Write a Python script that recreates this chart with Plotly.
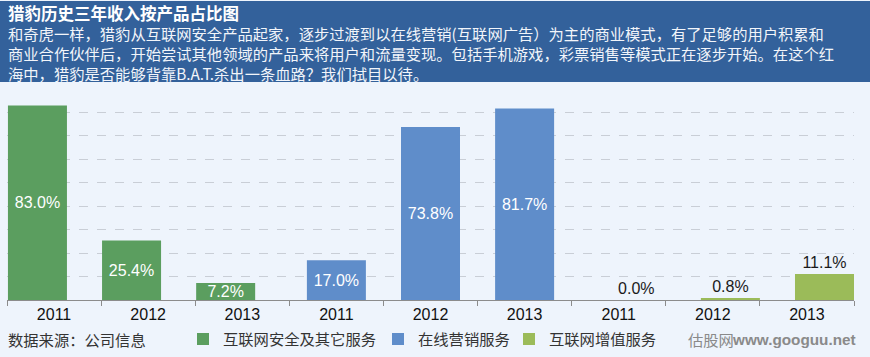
import plotly.graph_objects as go

# ---- data ----
series_names = ["互联网安全及其它服务", "在线营销服务", "互联网增值服务"]
years = ["2011", "2012", "2013"]
security_vals = [83.0, 25.4, 7.2]
marketing_vals = [17.0, 73.8, 81.7]
value_added_vals = [0.0, 0.8, 11.1]
tick_labels = years * 3

title_text = "猎豹历史三年收入按产品占比图"
body_lines = [
    "和奇虎一样，猎豹从互联网安全产品起家，逐步过渡到以在线营销(互联网广告）为主的商业模式，有了足够的用户积累和",
    "商业合作伙伴后，开始尝试其他领域的产品来将用户和流量变现。包括手机游戏，彩票销售等模式正在逐步开始。在这个红",
    "海中，猎豹是否能够背靠B.A.T.杀出一条血路？我们拭目以待。",
]
source_text = "数据来源：公司信息"
watermark_cn = "估股网"
watermark_url = "www.googuu.net"

# ---- layout constants ----
W, H = 870, 357
ML, MR, MT, MB = 7, 16, 89, 57
PH = H - MT - MB

def py(pix):
    return (H - MB - pix) / PH

def px(pix):
    return (pix - ML) / (W - ML - MR)

CJK = "Noto Sans CJK SC, sans-serif"
ARIAL = "Liberation Sans, Arial, sans-serif"
GREEN = "#5b9e5f"
BLUE = "#5f8dca"
LGREEN = "#9bbb59"
BG = "#eef4fc"
BAND = "#33619b"

bar_w = 0.627
groups = [
    (series_names[0], security_vals, GREEN, -0.49, "inside", "white", "legend", 183),
    (series_names[1], marketing_vals, BLUE, -bar_w / 2, "inside", "white", "legend2", 378),
    (series_names[2], value_added_vals, LGREEN, 0.5 - bar_w, "outside", "#1a1a1a", "legend3", 509),
]

fig = go.Figure()
legend_layouts = {}
for i, (name, vals, color, off, tpos, tcol, lg, lgx) in enumerate(groups):
    xs = [i * len(years) + j for j in range(len(vals))]
    fig.add_trace(go.Bar(
        name=name, x=xs, y=vals, legend=lg,
        marker=dict(color=color, line=dict(width=0)),
        width=bar_w, offset=off,
        texttemplate="%{y:.1f}%", textposition=tpos,
        insidetextanchor="middle", constraintext="none",
        textfont=dict(family=ARIAL, size=16, color=tcol),
        cliponaxis=False,
    ))
    legend_layouts[lg] = dict(
        orientation="h", x=px(lgx), y=py(339), xanchor="left", yanchor="middle",
        font=dict(family=CJK, size=15.3, color="#333333"),
        bgcolor="rgba(0,0,0,0)",
    )

def line_ann(text, xpix, ypix, size, color, anchor="left", family=CJK, align="left"):
    return dict(text=text, xref="paper", yref="paper", x=px(xpix), y=py(ypix),
                xanchor=anchor, yanchor="middle", showarrow=False, align=align,
                font=dict(family=family, size=size, color=color))

header = ("<b><span style=\"font-size:16.5px;color:#ffffff\">" + title_text + "</span></b><br>"
          + "<br>".join(body_lines))
annotations = [line_ann(header, 6, 43, 15.3, "#f2f5fa")]
annotations.append(line_ann(source_text, 6, 339, 15.3, "#333333"))
annotations.append(line_ann("<b>" + watermark_url + "</b>", 858, 339, 15.3, "#8a8a8a", "right", ARIAL))
annotations.append(line_ann(watermark_cn, 736, 339, 15.3, "#8a8a8a", "right"))

fig.update_layout(
    width=W, height=H,
    margin=dict(l=ML, r=MR, t=MT, b=MB, autoexpand=False),
    paper_bgcolor=BG, plot_bgcolor=BG,
    barmode="overlay",
    showlegend=True,
    xaxis=dict(
        range=[-0.5, 8.5], automargin=False,
        tickvals=list(range(len(tick_labels))), ticktext=tick_labels,
        ticks="", showgrid=False, zeroline=False,
        showline=True, linecolor="#8c8c8c", linewidth=1,
        tickfont=dict(family=ARIAL, size=16, color="#111111"),
        minor=dict(tick0=-0.5, dtick=1, ticks="outside", ticklen=5,
                   tickcolor="#8c8c8c", showgrid=False),
    ),
    yaxis=dict(
        range=[0, 90], dtick=10, showticklabels=False, ticks="", automargin=False,
        showgrid=True, gridcolor="#c9ced6", griddash="dash", gridwidth=1,
        zeroline=False, showline=False,
    ),
    shapes=[
        dict(type="rect", xref="paper", yref="paper",
             x0=px(0), x1=px(W), y0=py(82), y1=py(1),
             fillcolor=BAND, line=dict(width=0), layer="below"),
    ],
    annotations=annotations,
    **legend_layouts,
)

fig.write_html(
    "out.html",
    config={"displayModeBar": False},
    post_script="document.body.style.margin='0';document.body.style.padding='0';",
)
